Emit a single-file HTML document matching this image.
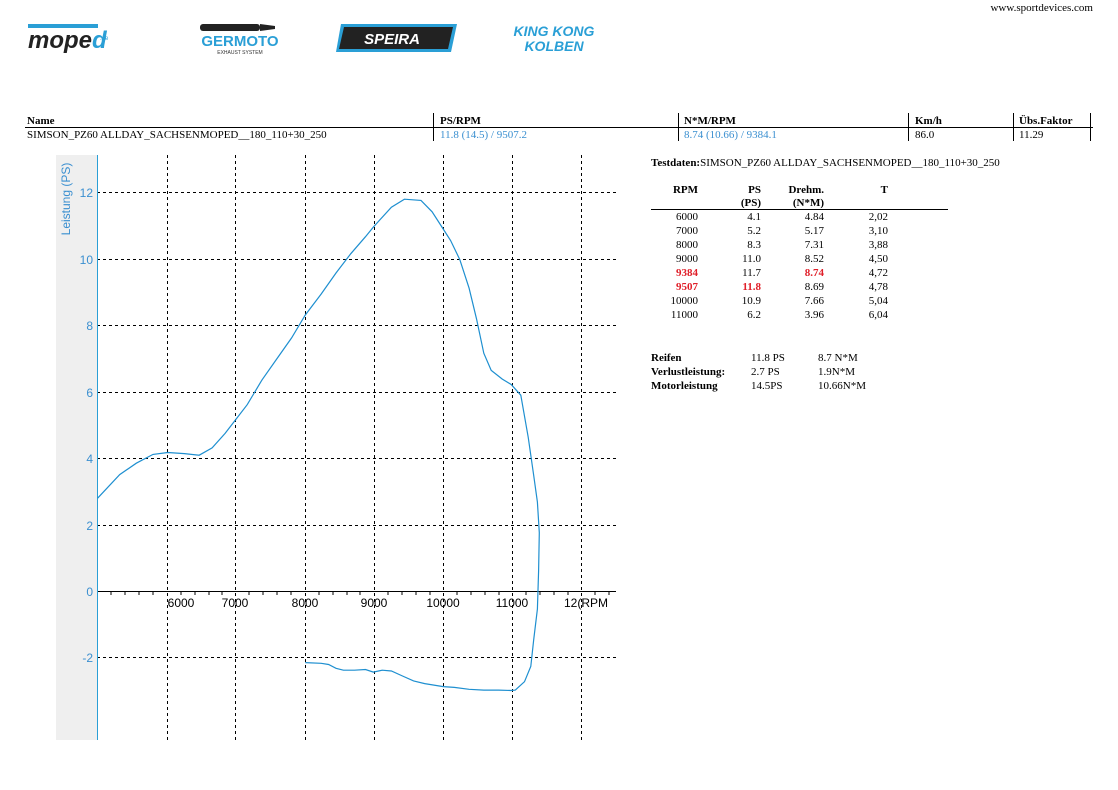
<!DOCTYPE html>
<html><head><meta charset="utf-8"><style>
html,body{margin:0;padding:0;background:#fff}
svg{display:block}
.s{font-family:"Liberation Serif",serif;font-size:11px;fill:#000}
.b{font-weight:bold}
.a{font-family:"Liberation Sans",sans-serif;font-size:12px}
</style></head><body>
<svg width="1118" height="790" viewBox="0 0 1118 790" xmlns="http://www.w3.org/2000/svg">
<rect width="1118" height="790" fill="#fff"/>
<text x="1093" y="11" class="s" font-size="10" text-anchor="end">www.sportdevices.com</text>
<!-- logos -->
<g>
<rect x="28" y="24" width="70" height="4" fill="#2a9fd6"/>
<text x="28" y="48" font-family="Liberation Sans,sans-serif" font-size="24" font-weight="bold" font-style="italic" fill="#222">mope<tspan fill="#2a9fd6">d</tspan></text>
<text x="100" y="40" font-family="Liberation Sans,sans-serif" font-size="6" fill="#2a9fd6">.de</text>
<rect x="200" y="24" width="60" height="7" rx="3" fill="#222"/>
<polygon points="260,24 275,26 275,29 260,31" fill="#222"/>
<text x="240" y="46" text-anchor="middle" font-family="Liberation Sans,sans-serif" font-size="15" font-weight="bold" fill="#2a9fd6">GERMOTO</text>
<text x="240" y="54" text-anchor="middle" font-family="Liberation Sans,sans-serif" font-size="5" fill="#333">EXHAUST SYSTEM</text>
<polygon points="341,24 457,24 451,52 336,52" fill="#2a9fd6"/>
<polygon points="344,27 453,27 448,49 339,49" fill="#222"/>
<text x="392" y="44" text-anchor="middle" font-family="Liberation Sans,sans-serif" font-size="15" font-weight="bold" font-style="italic" fill="#fff">SPEIRA</text>
<text x="554" y="36" text-anchor="middle" font-family="Liberation Sans,sans-serif" font-size="14" font-weight="bold" font-style="italic" fill="#2a9fd6">KING KONG</text>
<text x="554" y="51" text-anchor="middle" font-family="Liberation Sans,sans-serif" font-size="14" font-weight="bold" font-style="italic" fill="#2a9fd6">KOLBEN</text>
</g>
<!-- header table -->
<text x="27" y="124" class="s b">Name</text>
<text x="440" y="124" class="s b">PS/RPM</text>
<text x="684" y="124" class="s b">N*M/RPM</text>
<text x="915" y="124" class="s b">Km/h</text>
<text x="1019" y="124" class="s b">Übs.Faktor</text>
<line x1="25" y1="127.5" x2="1093" y2="127.5" stroke="#000"/>
<g stroke="#000"><line x1="433.5" y1="113" x2="433.5" y2="141"/><line x1="678.5" y1="113" x2="678.5" y2="141"/><line x1="908.5" y1="113" x2="908.5" y2="141"/><line x1="1013.5" y1="113" x2="1013.5" y2="141"/><line x1="1090.5" y1="113" x2="1090.5" y2="141"/></g>
<text x="27" y="138" class="s">SIMSON_PZ60 ALLDAY_SACHSENMOPED__180_110+30_250</text>
<text x="440" y="138" class="s" fill="#2a8fd0" style="fill:#3a8fd0">11.8 (14.5) / 9507.2</text>
<text x="684" y="138" class="s" style="fill:#3a8fd0">8.74 (10.66) / 9384.1</text>
<text x="915" y="138" class="s">86.0</text>
<text x="1019" y="138" class="s">11.29</text>
<!-- chart -->
<rect x="56" y="155" width="41" height="585" fill="#efefef"/>
<g stroke="#000" stroke-dasharray="3,3" stroke-width="1">
<line x1="97" y1="192.5" x2="616" y2="192.5"/><line x1="97" y1="259.5" x2="616" y2="259.5"/><line x1="97" y1="325.5" x2="616" y2="325.5"/><line x1="97" y1="392.5" x2="616" y2="392.5"/><line x1="97" y1="458.5" x2="616" y2="458.5"/><line x1="97" y1="525.5" x2="616" y2="525.5"/><line x1="97" y1="657.5" x2="616" y2="657.5"/>
<line x1="167.5" y1="155" x2="167.5" y2="740"/><line x1="235.5" y1="155" x2="235.5" y2="740"/><line x1="305.5" y1="155" x2="305.5" y2="740"/><line x1="374.5" y1="155" x2="374.5" y2="740"/><line x1="443.5" y1="155" x2="443.5" y2="740"/><line x1="512.5" y1="155" x2="512.5" y2="740"/><line x1="581.5" y1="155" x2="581.5" y2="740"/>
</g>
<line x1="97" y1="591.5" x2="616" y2="591.5" stroke="#000"/>
<g stroke="#000" id="tk">
<path d="M111,591v4M125,591v4M139,591v4M153,591v4M181,591v4M195,591v4M209,591v4M222,591v4M249,591v4M263,591v4M277,591v4M291,591v4M319,591v4M333,591v4M347,591v4M360,591v4M388,591v4M402,591v4M416,591v4M430,591v4M457,591v4M471,591v4M485,591v4M499,591v4M526,591v4M540,591v4M554,591v4M568,591v4M595,591v4M609,591v4"/>
</g>
<line x1="97.5" y1="155" x2="97.5" y2="740" stroke="#2a9fd6"/>
<g class="a" fill="#3a8fd0" text-anchor="end" font-family="Liberation Sans,sans-serif" font-size="12">
<text x="93" y="197">12</text><text x="93" y="264">10</text><text x="93" y="330">8</text><text x="93" y="397">6</text><text x="93" y="463">4</text><text x="93" y="530">2</text><text x="93" y="596">0</text><text x="93" y="662">-2</text>
</g>
<text transform="translate(70,199) rotate(-90)" text-anchor="middle" font-family="Liberation Sans,sans-serif" font-size="12" fill="#3a8fd0">Leistung (PS)</text>
<g font-family="Liberation Sans,sans-serif" font-size="12" fill="#000" text-anchor="middle">
<text x="181" y="607">6000</text><text x="235" y="607">7000</text><text x="305" y="607">8000</text><text x="374" y="607">9000</text><text x="443" y="607">10000</text><text x="512" y="607">11000</text><text x="586" y="607">12(RPM</text>
</g>
<polyline fill="none" stroke="#1e8fd0" stroke-width="1.2" points="97.5,498.3 119.7,474.6 136.3,463.2 153,454.4 167.8,452.5 184.4,453.6 199.2,455.2 212.1,447.9 225.1,433.4 235.4,420 247.2,404.7 262,379.9 276.8,358.9 291.6,337.9 305.3,315 321.2,294 336,273 350.7,253.8 365.5,236.7 373.3,227.1 391.4,207.2 404.4,199.2 421,200.4 432.1,211.8 443.2,229 450.6,240.5 459.8,259.6 469.1,288.2 476.5,318.8 483.8,353.2 491.2,370.4 502.3,379.1 511.2,384.5 520.8,395.2 528.2,437.2 533.7,475.4 537.4,502.1 539.3,532.7 538.6,570.9 537.4,609.1 533.7,639.7 530.8,666.4 524.5,681.7 515.3,690.1 511.2,690.5 498.6,690.1 483.8,690.1 469.1,689.3 454.3,687.4 443.2,686.6 424.7,683.6 413.6,680.9 402.5,676 391.4,671 382.2,670.2 373.3,672.1 365.5,669.5 354.5,670.2 343.4,670.2 336,668.3 328.6,664.5 321.2,663.3 305.3,662.6"/>
<!-- right panel -->
<text x="651" y="166" class="s"><tspan class="b" font-weight="bold">Testdaten:</tspan>SIMSON_PZ60 ALLDAY_SACHSENMOPED__180_110+30_250</text>
<g class="s b" font-weight="bold" text-anchor="end">
<text x="698" y="193">RPM</text><text x="761" y="193">PS</text><text x="761" y="206">(PS)</text><text x="824" y="193">Drehm.</text><text x="824" y="206">(N*M)</text><text x="888" y="193">T</text>
</g>
<line x1="651" y1="209.5" x2="948" y2="209.5" stroke="#000"/>
<g class="s" text-anchor="end">
<text x="698" y="220">6000</text><text x="761" y="220">4.1</text><text x="824" y="220">4.84</text><text x="888" y="220">2,02</text>
<text x="698" y="234">7000</text><text x="761" y="234">5.2</text><text x="824" y="234">5.17</text><text x="888" y="234">3,10</text>
<text x="698" y="248">8000</text><text x="761" y="248">8.3</text><text x="824" y="248">7.31</text><text x="888" y="248">3,88</text>
<text x="698" y="262">9000</text><text x="761" y="262">11.0</text><text x="824" y="262">8.52</text><text x="888" y="262">4,50</text>
<text x="698" y="276" font-weight="bold" style="fill:#e0202a">9384</text><text x="761" y="276">11.7</text><text x="824" y="276" font-weight="bold" style="fill:#e0202a">8.74</text><text x="888" y="276">4,72</text>
<text x="698" y="290" font-weight="bold" style="fill:#e0202a">9507</text><text x="761" y="290" font-weight="bold" style="fill:#e0202a">11.8</text><text x="824" y="290">8.69</text><text x="888" y="290">4,78</text>
<text x="698" y="304">10000</text><text x="761" y="304">10.9</text><text x="824" y="304">7.66</text><text x="888" y="304">5,04</text>
<text x="698" y="318">11000</text><text x="761" y="318">6.2</text><text x="824" y="318">3.96</text><text x="888" y="318">6,04</text>
</g>
<g class="s">
<text x="651" y="361" font-weight="bold">Reifen</text><text x="751" y="361">11.8 PS</text><text x="818" y="361">8.7 N*M</text>
<text x="651" y="375" font-weight="bold">Verlustleistung:</text><text x="751" y="375">2.7 PS</text><text x="818" y="375">1.9N*M</text>
<text x="651" y="389" font-weight="bold">Motorleistung</text><text x="751" y="389">14.5PS</text><text x="818" y="389">10.66N*M</text>
</g>
</svg>
</body></html>
